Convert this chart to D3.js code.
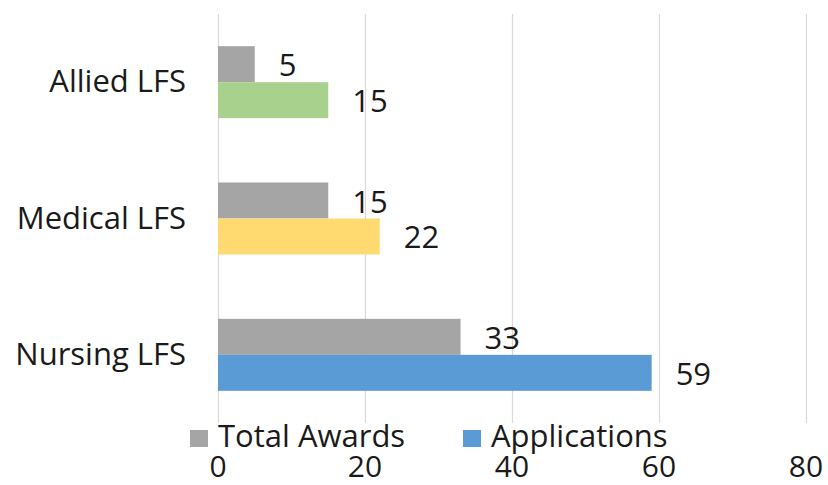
<!DOCTYPE html>
<html>
<head>
<meta charset="utf-8">
<script src="https://cdn.jsdelivr.net/npm/d3@7/dist/d3.min.js"></script>
<style>
html,body{margin:0;padding:0;background:#fff;}
text{font-family:"Open Sans",sans-serif;fill:#1a1a1a;}
</style>
</head>
<body>
<svg id="chart" width="828" height="485"></svg>
<script>
const categories = ["Allied LFS", "Medical LFS", "Nursing LFS"];
const seriesNames = ["Total Awards", "Applications"];
const totalAwards = [5, 15, 33];
const applications = [15, 22, 59];
const tickValues = [0, 20, 40, 60, 80];
const appColors = ["#A9D18E", "#FFDA70", "#5B9BD5"];
const awardColor = "#A5A5A5";
const legendColors = ["#A5A5A5", "#5B9BD5"];

const svg = d3.select("#chart");
const fontSize = 31;

const x = d3.scaleLinear().domain([0, 80]).range([218, 806]);
const y = d3.scaleBand().domain(categories).range([14, 423]).paddingInner(0.472).paddingOuter(0.236);
const ySub = d3.scaleBand().domain(seriesNames).range([0, y.bandwidth()]);

// gridlines
svg.append("g").selectAll("line").data(tickValues).join("line")
  .attr("x1", d => Math.round(x(d)) + 0.5).attr("x2", d => Math.round(x(d)) + 0.5)
  .attr("y1", 14).attr("y2", 423)
  .attr("stroke", "#D9D9D9").attr("stroke-width", 1.2);

// bars
const rows = categories.map((c, i) => ({
  cat: c,
  vals: [
    {s: seriesNames[0], v: totalAwards[i], color: awardColor},
    {s: seriesNames[1], v: applications[i], color: appColors[i]}
  ]
}));

const g = svg.append("g").selectAll("g").data(rows).join("g")
  .attr("transform", d => `translate(0,${y(d.cat)})`);

g.selectAll("rect").data(d => d.vals).join("rect")
  .attr("x", x(0))
  .attr("y", d => ySub(d.s))
  .attr("width", d => x(d.v) - x(0))
  .attr("height", ySub.bandwidth())
  .attr("fill", d => d.color);

g.selectAll("text.val").data(d => d.vals).join("text")
  .attr("class", "val")
  .attr("x", d => x(d.v) + 24)
  .attr("y", d => ySub(d.s) + ySub.bandwidth() / 2 + 12)
  .attr("font-size", fontSize)
  .text(d => d.v);

// category labels
svg.append("g").selectAll("text").data(categories).join("text")
  .attr("x", 186)
  .attr("y", d => y(d) + y.bandwidth() / 2 + 10)
  .attr("text-anchor", "end")
  .attr("font-size", fontSize)
  .text(d => d);

// x tick labels
svg.append("g").selectAll("text").data(tickValues).join("text")
  .attr("x", d => x(d))
  .attr("y", 477)
  .attr("text-anchor", "middle")
  .attr("font-size", 30)
  .text(d => d);

// legend
const legendX = [190, 463];
const lg = svg.append("g").selectAll("g").data(seriesNames).join("g")
  .attr("transform", (d, i) => `translate(${legendX[i]},0)`);
lg.append("rect").attr("x", 0).attr("y", 430).attr("width", 18).attr("height", 17)
  .attr("fill", (d, i) => legendColors[i]);
lg.append("text").attr("x", 28).attr("y", 447).attr("font-size", fontSize).text(d => d);
</script>
</body>
</html>
